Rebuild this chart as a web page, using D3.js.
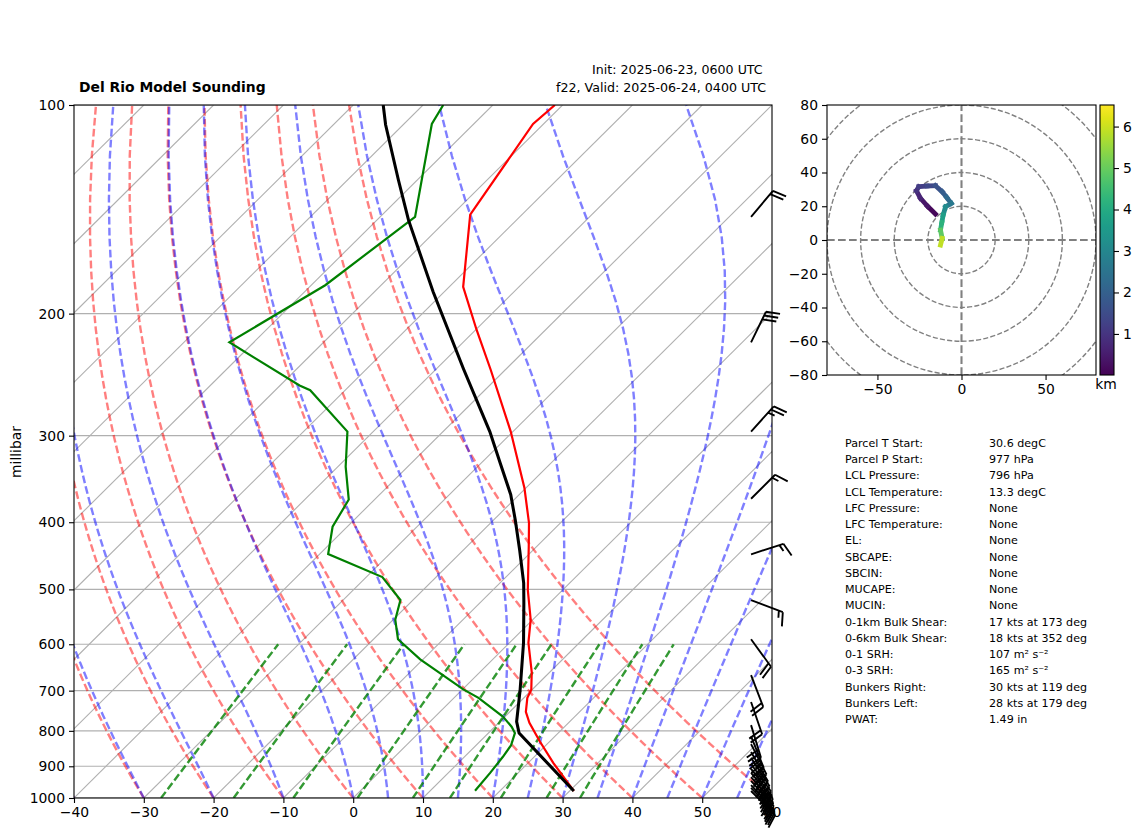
<!DOCTYPE html>
<html>
<head>
<meta charset="utf-8">
<script src="https://cdn.jsdelivr.net/npm/d3@7"></script>
<style>
  body { margin: 0; background: white; }
  text { font-family: "DejaVu Sans", sans-serif; fill: black; }
</style>
</head>
<body>
<div id="chart"></div>
<script>
// sounding (hPa, degC)
var tempPressure = [100, 106.5, 144, 183, 211, 241, 296, 357, 401, 434, 501, 553, 597, 658, 698, 717, 751, 779, 829, 890, 977]
var temperature = [-71.1, -71.5, -67.4, -58.0, -49.9, -42.1, -30.3, -20.2, -14.5, -11.1, -5.0, -0.3, 2.7, 7.4, 9.9, 10.5, 12.3, 14.4, 18.6, 23.6, 30.6]
var dewPressure = [100, 106.5, 145, 182, 220, 254, 258, 296, 332.5, 371, 406, 444.5, 480, 518, 553, 590, 631, 697, 717, 763, 789, 806, 839, 872, 920, 976]
var dewpoint = [-87.1, -86.0, -75.0, -78.0, -83.5, -67.2, -65.0, -53.7, -48.9, -43.7, -42.1, -38.8, -27.7, -21.8, -19.7, -16.5, -10.4, 0.1, 3.5, 9.7, 12.4, 13.8, 15.0, 15.5, 16.0, 16.4]
var parcelPressure = [100, 106.8, 128.3, 146.5, 186, 240.4, 296, 329, 365, 397, 439, 489.5, 523, 597, 698, 776, 806, 977]
var parcelTemp = [-95.7, -92.5, -82.7, -75.5, -61.6, -46.1, -33.3, -27.2, -21.2, -16.9, -11.9, -6.6, -3.7, 2.0, 8.3, 12.4, 14.4, 30.6]

// wind barbs: direction the wind comes from (deg) and speed (kt)
var windPressure = [145, 220, 296, 370, 445, 518, 590, 665, 727, 785, 815, 836, 858, 875, 893, 908, 920, 933, 945, 958, 967, 977]
var windDir = [40, 26, 42, 45, 72, 111, 144, 159, 161, 163, 158, 153, 150, 147, 144, 142, 140, 139, 138, 137, 136, 135]
var windSpeed = [20, 30, 25, 15, 15, 15, 20, 20, 20, 30, 30, 35, 35, 40, 40, 40, 35, 35, 30, 30, 25, 20]

// hodograph
var hodoU = [-15.5, -20.2, -24.4, -26.8, -25.4, -20.5, -15.5, -11.5, -8.8, -6.1, -9.5, -10.9, -11.7, -12.5, -11.5, -12.5]
var hodoV = [15.4, 20.0, 24.7, 29.2, 31.6, 32.0, 32.2, 28.6, 25.2, 21.7, 19.7, 14.8, 10.4, 5.9, 1.0, -3.0]
var hodoHeight = [0.01, 0.25, 0.5, 0.85, 1.1, 1.3, 1.5, 1.8, 2.05, 2.4, 2.9, 3.4, 3.9, 4.5, 5.3, 6.5]

// axes
var pressureTicks = [100, 200, 300, 400, 500, 600, 700, 800, 900, 1000]
var tempTicks = [-40, -30, -20, -10, 0, 10, 20, 30, 40, 50, 60]
var isotherms = d3.range(-130, 61, 10)
var hodoTicksX = [-50, 0, 50]
var hodoTicksY = [-80, -60, -40, -20, 0, 20, 40, 60, 80]
var hodoRings = [20, 40, 60, 80, 100]
var colorbarTicks = [1, 2, 3, 4, 5, 6]

// thermodynamic reference curves, labelled by their 1000 hPa temperature
var dryLines = d3.range(-40, 61, 10)
var moistLines = [-40, -30, -20, -10, 0, 5, 10, 15, 20, 25, 30, 35, 40, 45, 50, 55, 60]
var mixingRatios = [0.0004, 0.001, 0.002, 0.004, 0.007, 0.01, 0.016, 0.024, 0.032]

// stats table
var statLabels = ['Parcel T Start:', 'Parcel P Start:', 'LCL Pressure:', 'LCL Temperature:', 'LFC Pressure:', 'LFC Temperature:', 'EL:', 'SBCAPE:', 'SBCIN:', 'MUCAPE:', 'MUCIN:', '0-1km Bulk Shear:', '0-6km Bulk Shear:', '0-1 SRH:', '0-3 SRH:', 'Bunkers Right:', 'Bunkers Left:', 'PWAT:']
var statValues = ['30.6 degC', '977 hPa', '796 hPa', '13.3 degC', 'None', 'None', 'None', 'None', 'None', 'None', 'None', '17 kts at 173 deg', '18 kts at 352 deg', '107 m² s⁻²', '165 m² s⁻²', '30 kts at 119 deg', '28 kts at 179 deg', '1.49 in']

var width = 1142
var height = 837
var plotLeft = 74, plotRight = 772, plotTop = 105, plotBottom = 798
var tickFont = '13.9px'

var svg = d3.select('#chart').append('svg').attr('width', width).attr('height', height)
  .style('display', 'block')

var x = d3.scaleLinear().domain([-40, 60]).range([plotLeft, plotRight])
var y = d3.scaleLog().domain([1000, 100]).range([plotBottom, plotTop])
var skew = (plotRight - plotLeft) / (plotBottom - plotTop)

// skew is done in axes coordinates, like metpy
var skewX = function(t, p) { return x(t) + (plotBottom - y(p)) * skew }

var profile = d3.line().x(function(d) { return skewX(d[1], d[0]) }).y(function(d) { return y(d[0]) })

svg.append('defs').append('clipPath').attr('id', 'plotClip').append('rect')
  .attr('x', plotLeft).attr('y', plotTop).attr('width', plotRight - plotLeft).attr('height', plotBottom - plotTop)

var plot = svg.append('g').attr('clip-path', 'url(#plotClip)')

// grid
plot.selectAll('.hgrid').data(pressureTicks).enter().append('line')
  .attr('x1', plotLeft).attr('x2', plotRight)
  .attr('y1', function(d) { return y(d) }).attr('y2', function(d) { return y(d) })
  .style('stroke', '#b0b0b0').style('stroke-width', 1.1)

plot.selectAll('.vgrid').data(isotherms).enter().append('line')
  .attr('x1', function(d) { return skewX(d, 1000) }).attr('y1', y(1000))
  .attr('x2', function(d) { return skewX(d, 100) }).attr('y2', y(100))
  .style('stroke', '#b0b0b0').style('stroke-width', 1.1)

// barbs sit under the reference lines
function barbPath(dir, speed, len) {
  var a = dir * Math.PI / 180
  var ux = Math.sin(a), uy = -Math.cos(a)      // along staff
  var px = Math.cos(a), py = Math.sin(a)       // towards the feathers
  var pt = function(along, out) {
    return (along * ux + out * px) + ' ' + (along * uy + out * py)
  }
  var h = len * 0.4, w = len * 0.25, gap = len * 0.125
  var n = Math.round(speed / 5)
  var full = Math.floor(n / 2), half = n % 2
  var s = 'M0 0L' + pt(len, 0)
  var off = len
  for (var i = 0; i < full; i++) {
    s += 'M' + pt(off, 0) + 'L' + pt(off + w / 2, h)
    off -= gap
  }
  if (half) {
    if (full == 0) off -= 1.5 * gap
    s += 'M' + pt(off, 0) + 'L' + pt(off + w / 4, h / 2)
  }
  return s
}

var barbX = plotLeft + 0.97 * (plotRight - plotLeft)
svg.append('g').selectAll('path').data(d3.range(windPressure.length)).enter().append('path')
  .attr('transform', function(i) { return 'translate(' + barbX + ',' + y(windPressure[i]) + ')' })
  .attr('d', function(i) { return barbPath(windDir[i], windSpeed[i], 34) })
  .style('fill', 'none').style('stroke', 'black').style('stroke-width', 1.9)

// reference curves
var refPressure = d3.range(0, 50).map(function(i) { return 1000 - i * 900 / 49 })

function dryCurve(t0) {
  return refPressure.map(function(p) {
    return [p, (t0 + 273.15) * Math.pow(p / 1000, 0.28571) - 273.15]
  })
}

function satVapor(tk) { return 6.112 * Math.exp(17.67 * (tk - 273.15) / (tk - 29.65)) }

function moistRate(p, tk) {
  var es = satVapor(tk), rs = 0.62197 * es / (p - es)
  var Lv = 2.501e6, Rd = 287.05, Cp = 1005.7
  return (Rd * tk + Lv * rs) / (Cp + Lv * Lv * rs * 0.62197 / (Rd * tk * tk)) / p
}

function moistCurve(t0) {
  var tk = t0 + 273.15
  var out = [[refPressure[0], t0]]
  for (var i = 1; i < refPressure.length; i++) {
    var steps = 8, dp = (refPressure[i] - refPressure[i - 1]) / steps
    var p = refPressure[i - 1]
    for (var j = 0; j < steps; j++) {
      var k1 = moistRate(p, tk)
      var k2 = moistRate(p + dp / 2, tk + dp * k1 / 2)
      var k3 = moistRate(p + dp / 2, tk + dp * k2 / 2)
      var k4 = moistRate(p + dp, tk + dp * k3)
      tk += dp * (k1 + 2 * k2 + 2 * k3 + k4) / 6
      p += dp
    }
    out.push([refPressure[i], tk - 273.15])
  }
  return out
}

function mixingCurve(w) {
  return d3.range(0, 7).map(function(i) {
    var p = 1000 - i * 400 / 6
    var v = Math.log(p * w / (0.62197 + w) / 6.112)
    return [p, 243.5 * v / (17.67 - v)]
  })
}

function drawCurves(curves, color, alpha) {
  plot.append('g').selectAll('path').data(curves).enter().append('path')
    .attr('d', profile)
    .style('fill', 'none').style('stroke', color).style('stroke-opacity', alpha)
    .style('stroke-width', 2.4).style('stroke-dasharray', '7.7,3.3')
}

drawCurves(dryLines.map(dryCurve), '#ff0000', 0.5)
drawCurves(moistLines.map(moistCurve), '#0000ff', 0.5)
drawCurves(mixingRatios.map(mixingCurve), '#008000', 0.8)

// profiles
var lines = plot.append('g').style('fill', 'none')
lines.append('path').attr('d', profile(d3.zip(tempPressure, temperature))).style('stroke', '#ff0000').style('stroke-width', 2.2)
lines.append('path').attr('d', profile(d3.zip(dewPressure, dewpoint))).style('stroke', '#008000').style('stroke-width', 2.2)
lines.append('path').attr('d', profile(d3.zip(parcelPressure, parcelTemp))).style('stroke', 'black').style('stroke-width', 3.05)

// frame and axes
function styleAxis(g) {
  g.selectAll('text').style('font-size', tickFont)
  g.selectAll('.domain').remove()
  g.selectAll('.tick line').style('stroke-width', 1.1)
}

function frame(x0, y0, w, h) {
  svg.append('rect').attr('x', x0).attr('y', y0).attr('width', w).attr('height', h)
    .style('fill', 'none').style('stroke', 'black').style('stroke-width', 1.1)
}

frame(plotLeft, plotTop, plotRight - plotLeft, plotBottom - plotTop)

svg.append('g').attr('transform', 'translate(' + plotLeft + ',0)')
  .call(d3.axisLeft(y).tickValues(pressureTicks).tickFormat(d3.format('d')).tickSize(5).tickPadding(4))
  .call(styleAxis)

svg.append('g').attr('transform', 'translate(0,' + plotBottom + ')')
  .call(d3.axisBottom(x).tickValues(tempTicks).tickFormat(d3.format('d')).tickSize(5).tickPadding(4))
  .call(styleAxis)

svg.append('text').attr('transform', 'translate(21,452) rotate(-90)')
  .attr('text-anchor', 'middle').style('font-size', tickFont).text('millibar')

// titles
svg.append('text').attr('x', 79).attr('y', 92).style('font-size', tickFont).style('font-weight', 'bold')
  .text('Del Rio Model Sounding')
svg.append('text').attr('x', 592).attr('y', 74).style('font-size', '12.6px').text('Init: 2025-06-23, 0600 UTC')
svg.append('text').attr('x', 556).attr('y', 92).style('font-size', '12.65px').text('f22, Valid: 2025-06-24, 0400 UTC')

// hodograph
var hx = d3.scaleLinear().domain([-80, 80]).range([827, 1096])
var hy = d3.scaleLinear().domain([-80, 80]).range([375, 105])

svg.select('defs').append('clipPath').attr('id', 'hodoClip').append('rect')
  .attr('x', 827).attr('y', 105).attr('width', 269).attr('height', 270)

var hodo = svg.append('g').attr('clip-path', 'url(#hodoClip)')

hodo.selectAll('ellipse').data(hodoRings).enter().append('ellipse')
  .attr('cx', hx(0)).attr('cy', hy(0))
  .attr('rx', function(d) { return hx(d) - hx(0) })
  .attr('ry', function(d) { return hy(0) - hy(d) })
  .style('fill', 'none').style('stroke', 'grey').style('stroke-width', 1.39).style('stroke-dasharray', '5.1,2.2')

hodo.append('line').attr('x1', hx(-80)).attr('x2', hx(80)).attr('y1', hy(0)).attr('y2', hy(0))
  .style('stroke', 'grey').style('stroke-width', 2.08).style('stroke-dasharray', '7.7,3.3')
hodo.append('line').attr('x1', hx(0)).attr('x2', hx(0)).attr('y1', hy(-80)).attr('y2', hy(80))
  .style('stroke', 'grey').style('stroke-width', 2.08).style('stroke-dasharray', '7.7,3.3')

var heightExtent = [0.01, 6.52]
var viridis = d3.scaleSequential(d3.interpolateViridis).domain(heightExtent)

hodo.selectAll('.seg').data(d3.range(hodoU.length - 1)).enter().append('line')
  .attr('x1', function(i) { return hx(hodoU[i]) }).attr('y1', function(i) { return hy(hodoV[i]) })
  .attr('x2', function(i) { return hx(hodoU[i + 1]) }).attr('y2', function(i) { return hy(hodoV[i + 1]) })
  .style('stroke', function(i) { return viridis((hodoHeight[i] + hodoHeight[i + 1]) / 2) })
  .style('stroke-width', 4.8).style('stroke-linecap', 'square')

frame(827, 105, 269, 270)

svg.append('g').attr('transform', 'translate(827,0)')
  .call(d3.axisLeft(hy).tickValues(hodoTicksY).tickFormat(d3.format('d')).tickSize(5).tickPadding(4))
  .call(styleAxis)

svg.append('g').attr('transform', 'translate(0,375)')
  .call(d3.axisBottom(hx).tickValues(hodoTicksX).tickFormat(d3.format('d')).tickSize(5).tickPadding(4))
  .call(styleAxis)

// colorbar
var cy = d3.scaleLinear().domain(heightExtent).range([375, 105])
var grad = svg.select('defs').append('linearGradient').attr('id', 'viridis')
  .attr('x1', 0).attr('x2', 0).attr('y1', 1).attr('y2', 0)
grad.selectAll('stop').data(d3.range(0, 1.001, 0.05)).enter().append('stop')
  .attr('offset', function(d) { return d })
  .attr('stop-color', function(d) { return d3.interpolateViridis(d) })

svg.append('rect').attr('x', 1100).attr('y', 105).attr('width', 14).attr('height', 270)
  .style('fill', 'url(#viridis)')
frame(1100, 105, 14, 270)

svg.append('g').attr('transform', 'translate(1114,0)')
  .call(d3.axisRight(cy).tickValues(colorbarTicks).tickFormat(d3.format('d')).tickSize(5).tickPadding(4))
  .call(styleAxis)

svg.append('text').attr('x', 1106).attr('y', 389).attr('text-anchor', 'middle').style('font-size', tickFont).text('km')

// stats table
var rowY = d3.scaleLinear().domain([0, statLabels.length - 1]).range([447, 723])

svg.append('g').selectAll('text').data(statLabels).enter().append('text')
  .attr('x', 845).attr('y', function(d, i) { return rowY(i) })
  .style('font-size', '11.1px').text(function(d) { return d })

svg.append('g').selectAll('text').data(statValues).enter().append('text')
  .attr('x', 989).attr('y', function(d, i) { return rowY(i) })
  .style('font-size', '11.1px').text(function(d) { return d })
</script>
</body>
</html>
